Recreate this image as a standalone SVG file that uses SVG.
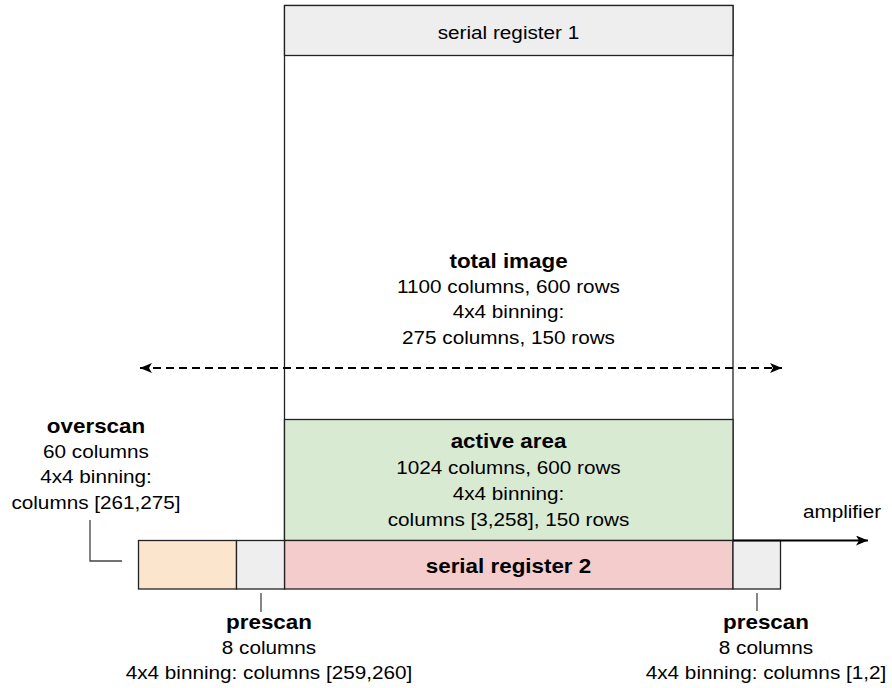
<svg xmlns="http://www.w3.org/2000/svg" width="892" height="688" viewBox="0 0 892 688">
<style>
  .box { stroke: #222; stroke-width: 1.3; }
  .t { font-family: "Liberation Sans", Arial, sans-serif; font-size: 18.5px; fill: #000; text-anchor: middle; }
  .b { font-weight: bold; font-size: 20px; }
  .lead { fill: none; stroke: #444; stroke-width: 1.3; }
</style>
<defs>
  <marker id="ah" viewBox="0 0 12 10" refX="12" refY="5" markerWidth="12" markerHeight="10" markerUnits="userSpaceOnUse" orient="auto-start-reverse">
    <path d="M0,0 L12,5 L0,10 L3,5 Z" fill="#000"/>
  </marker>
</defs>
<rect width="892" height="688" fill="#fff"/>

<g id="total-image">
  <rect class="box" x="284.5" y="5.5" width="448.5" height="535" fill="#fff"/>
  <g transform="translate(508.5,0) scale(1.12,1)">
    <text class="t b" x="0" y="268">total image</text>
    <text class="t" x="0" y="293">1100 columns, 600 rows</text>
    <text class="t" x="0" y="318.5">4x4 binning:</text>
    <text class="t" x="0" y="344">275 columns, 150 rows</text>
  </g>
</g>

<g id="serial-register-1">
  <rect class="box" x="284.5" y="5.5" width="448.5" height="50" fill="#eeeeee"/>
  <g transform="translate(508.5,0) scale(1.12,1)">
    <text class="t" x="0" y="39">serial register 1</text>
  </g>
</g>

<g id="active-area">
  <rect class="box" x="284.5" y="419.5" width="448.5" height="121" fill="#d9ead3"/>
  <g transform="translate(508.5,0) scale(1.12,1)">
    <text class="t b" x="0" y="448">active area</text>
    <text class="t" x="0" y="474">1024 columns, 600 rows</text>
    <text class="t" x="0" y="500">4x4 binning:</text>
    <text class="t" x="0" y="526">columns [3,258], 150 rows</text>
  </g>
</g>

<g id="serial-register-2">
  <rect class="box" x="284.5" y="540.5" width="448.5" height="48.5" fill="#f4cccc"/>
  <g transform="translate(508.5,0) scale(1.12,1)">
    <text class="t b" x="0" y="573">serial register 2</text>
  </g>
</g>

<g id="overscan">
  <rect class="box" x="138.5" y="540.5" width="98" height="48.5" fill="#fce5cd"/>
  <g transform="translate(96,0) scale(1.12,1)">
    <text class="t b" x="0" y="433">overscan</text>
    <text class="t" x="0" y="458">60 columns</text>
    <text class="t" x="0" y="483">4x4 binning:</text>
    <text class="t" x="0" y="509">columns [261,275]</text>
  </g>
</g>

<g id="prescan-left">
  <rect class="box" x="236.5" y="540.5" width="48" height="48.5" fill="#eeeeee"/>
  <g transform="translate(269,0) scale(1.12,1)">
    <text class="t b" x="0" y="629">prescan</text>
    <text class="t" x="0" y="654">8 columns</text>
    <text class="t" x="0" y="679">4x4 binning: columns [259,260]</text>
  </g>
</g>

<g id="prescan-right">
  <rect class="box" x="733" y="540.5" width="47.5" height="48.5" fill="#eeeeee"/>
  <g transform="translate(766,0) scale(1.12,1)">
    <text class="t b" x="0" y="629">prescan</text>
    <text class="t" x="0" y="654">8 columns</text>
    <text class="t" x="0" y="679">4x4 binning: columns [1,2]</text>
  </g>
</g>

<g id="amplifier">
  <g transform="translate(842,0) scale(1.12,1)">
    <text class="t" x="0" y="518">amplifier</text>
  </g>
</g>

<g id="connectors">
  <line x1="140" y1="368" x2="782" y2="368" stroke="#000" stroke-width="2" stroke-dasharray="8,5" marker-start="url(#ah)" marker-end="url(#ah)"/>
  <line x1="733" y1="540.5" x2="868" y2="540.5" stroke="#000" stroke-width="2" marker-end="url(#ah)"/>
  <polyline class="lead" points="90,520 90,561 122,561"/>
  <line class="lead" x1="261" y1="593" x2="261" y2="612"/>
  <line class="lead" x1="757" y1="593" x2="757" y2="611"/>
</g>
</svg>
